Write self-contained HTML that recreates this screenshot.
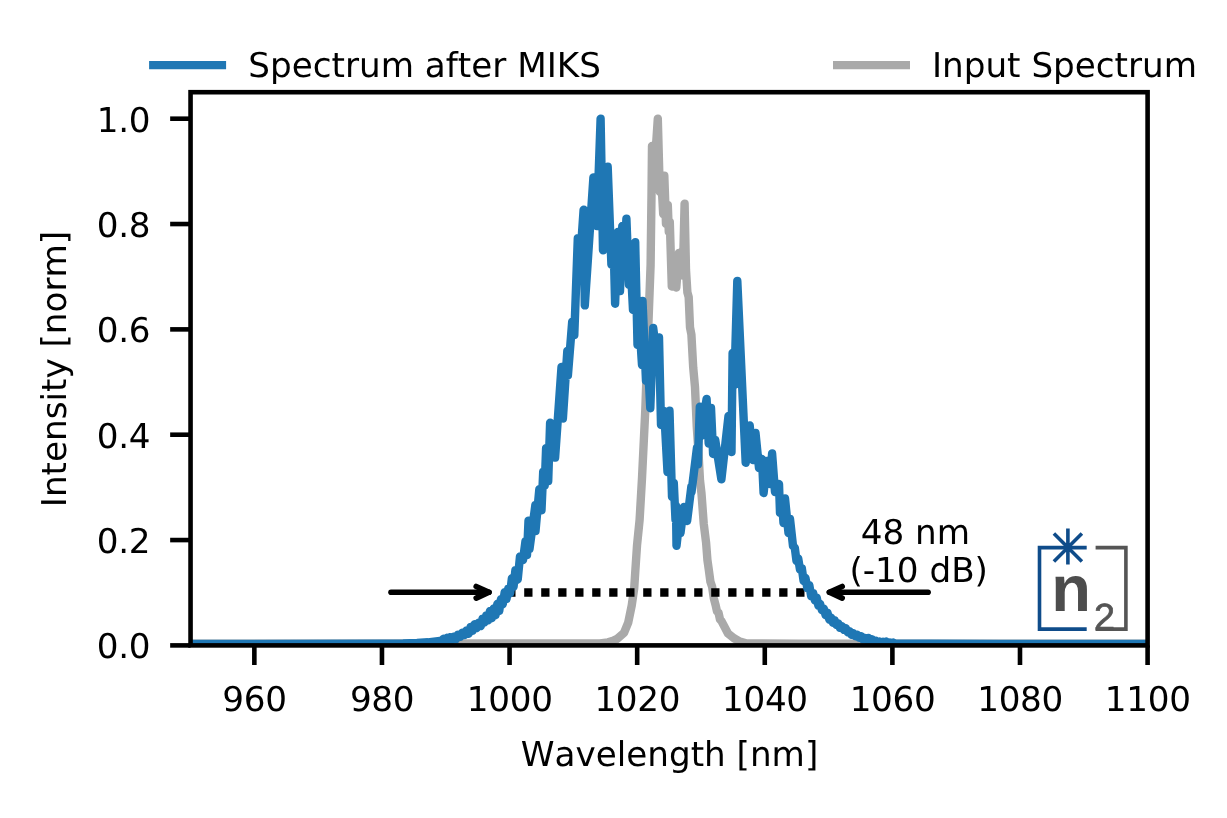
<!DOCTYPE html>
<html lang="en"><head><meta charset="utf-8"><title>Spectrum after MIKS</title>
<style>html,body{margin:0;padding:0;background:#fff}body{width:1227px;height:818px;overflow:hidden}svg{display:block}svg{will-change:transform}text{text-rendering:geometricPrecision;font-kerning:none;font-family:"DejaVu Sans","Liberation Sans",sans-serif;font-size:34.20px;fill:#000}.t{letter-spacing:-0.3px}</style></head><body>
<svg width="1227" height="818" viewBox="0 0 1227 818">
<rect width="1227" height="818" fill="#fff"/>
<defs><clipPath id="ax"><rect x="190.55" y="92.20" width="957.05" height="553.20"/></clipPath></defs>
<g clip-path="url(#ax)" fill="none" stroke-linejoin="round" stroke-linecap="butt">
<path d="M186.0 643.7 L600.0 643.5 L608.0 642.3 L613.0 640.8 L617.1 638.9 L624.0 632.9 L628.2 622.7 L631.7 605.6 L634.2 588.4 L635.3 571.3 L637.0 545.7 L639.6 520.0 L642.0 478.2 L645.3 410.0 L647.8 340.0 L650.6 265.0 L651.5 195.0 L652.0 146.0 L654.0 176.0 L657.8 118.7 L659.8 192.0 L661.5 183.0 L663.2 214.0 L664.3 175.6 L666.0 224.0 L667.8 204.9 L668.8 232.0 L669.8 222.0 L671.8 286.5 L674.0 262.0 L676.3 287.5 L678.9 253.0 L682.8 275.5 L684.6 203.7 L686.0 270.0 L687.4 292.4 L688.7 297.2 L690.0 327.4 L691.4 334.5 L693.2 367.4 L695.0 387.2 L696.8 427.2 L698.5 452.5 L700.0 480.6 L701.5 493.6 L703.7 523.4 L706.1 542.8 L707.4 559.8 L708.7 569.0 L710.4 581.6 L712.1 586.6 L713.8 598.2 L715.5 604.7 L717.0 611.4 L718.5 612.7 L720.0 619.5 L721.5 621.1 L728.0 633.5 L734.0 638.3 L740.0 641.6 L746.0 643.3 L800.0 643.6 L1152.0 643.7" stroke="#a9a9a9" stroke-width="8.4"/>
<line x1="507.2" y1="592.5" x2="812.0" y2="592.5" stroke="#000" stroke-width="8.3" stroke-dasharray="8.30 8.70"/>
<path d="M186.0 643.9 L380.0 643.8 L403.0 643.5 L417.0 643.0 L428.0 642.3 L440.0 640.8 L441.7 641.5 L443.4 638.8 L445.1 640.6 L446.9 637.8 L448.6 640.0 L450.3 637.1 L452.0 639.9 L454.0 636.6 L456.0 639.1 L458.0 634.6 L460.2 636.9 L462.3 632.8 L464.5 635.0 L466.5 630.4 L468.6 633.8 L470.6 627.0 L472.6 630.8 L474.7 624.3 L476.7 628.0 L478.8 622.6 L480.8 626.1 L482.6 618.6 L484.5 622.4 L486.3 615.4 L488.2 620.3 L490.0 610.9 L491.8 618.1 L493.7 608.4 L495.5 615.2 L497.4 603.8 L499.2 611.0 L501.0 599.1 L502.8 604.2 L504.7 592.1 L506.5 599.0 L508.3 588.4 L510.1 593.3 L511.9 578.3 L513.6 586.6 L515.4 570.1 L517.7 579.6 L520.0 556.4 L523.0 560.0 L525.5 541.0 L527.0 555.0 L528.5 520.6 L529.5 549.0 L535.4 504.9 L535.5 531.0 L539.3 489.3 L541.5 510.4 L543.2 471.7 L544.7 485.7 L546.1 448.2 L548.2 481.1 L550.1 422.8 L555.1 457.6 L561.5 367.0 L562.9 418.5 L567.3 351.0 L567.9 375.5 L572.2 321.7 L574.3 335.0 L577.8 238.1 L580.7 252.1 L583.6 209.8 L584.8 305.4 L593.4 177.5 L596.8 226.0 L600.6 118.7 L603.0 250.2 L607.7 166.8 L611.4 264.6 L613.5 240.0 L615.1 303.7 L617.8 232.0 L620.0 291.0 L622.3 226.0 L624.3 262.0 L626.4 218.7 L629.0 285.0 L631.0 271.0 L633.0 310.0 L635.2 242.2 L637.5 345.0 L639.8 331.0 L642.0 365.0 L642.5 301.0 L646.0 381.0 L648.1 367.0 L650.3 408.2 L653.2 327.9 L656.1 351.4 L659.0 337.4 L661.0 425.0 L664.2 411.0 L667.5 472.0 L669.5 410.8 L672.0 497.0 L673.8 483.0 L675.5 520.0 L676.0 506.0 L676.5 545.7 L678.5 528.0 L680.5 533.0 L683.8 507.0 L687.1 521.0 L691.4 486.2 L691.5 492.0 L697.0 447.5 L697.9 464.4 L699.8 406.8 L700.8 436.0 L706.6 399.0 L708.7 443.6 L711.0 408.0 L713.1 454.0 L715.2 440.0 L721.4 479.3 L728.5 416.0 L731.5 452.0 L732.6 353.0 L734.3 385.0 L737.3 280.9 L745.7 462.7 L749.7 425.4 L753.0 460.0 L755.5 433.0 L759.0 468.0 L762.0 459.0 L763.6 493.0 L767.0 461.0 L770.0 484.0 L772.1 453.5 L775.0 492.0 L779.0 484.0 L780.0 513.0 L781.8 499.0 L783.5 523.0 L785.0 498.5 L788.5 533.0 L790.0 519.0 L793.0 546.0 L794.8 547.7 L796.5 560.9 L798.2 558.5 L800.0 569.7 L801.8 568.1 L803.6 580.9 L805.4 577.8 L807.4 588.4 L809.3 585.2 L811.2 596.2 L813.2 593.1 L814.9 600.4 L816.7 597.6 L818.4 605.7 L820.1 604.0 L821.9 610.1 L823.8 608.7 L825.6 615.0 L827.5 612.7 L829.3 619.5 L831.1 617.7 L832.9 622.7 L834.6 620.2 L836.4 624.8 L838.2 623.4 L840.0 627.9 L841.9 626.3 L843.8 629.9 L845.8 628.2 L847.7 632.2 L849.6 631.2 L851.5 634.8 L853.4 633.5 L855.3 636.2 L857.2 634.6 L859.2 637.7 L861.1 636.1 L863.0 639.4 L864.8 638.0 L866.7 639.9 L868.5 638.0 L870.4 640.7 L872.2 639.3 L874.0 641.7 L875.9 640.8 L877.7 642.4 L879.4 641.4 L881.2 642.6 L882.9 641.8 L884.6 643.1 L886.4 641.6 L888.1 643.4 L889.8 642.4 L891.5 643.6 L893.3 642.6 L895.0 643.5 L930.0 643.8 L1000.0 643.9 L1152.0 643.9" stroke="#1f77b4" stroke-width="8.4"/>
</g>
<rect x="190.55" y="92.20" width="957.05" height="553.20" fill="none" stroke="#000" stroke-width="4.6"/>
<line x1="254.35" y1="645.40" x2="254.35" y2="665.00" stroke="#000" stroke-width="4.6"/>
<text class="t" x="254.50" y="711.1" text-anchor="middle">960</text>
<line x1="381.96" y1="645.40" x2="381.96" y2="665.00" stroke="#000" stroke-width="4.6"/>
<text class="t" x="382.11" y="711.1" text-anchor="middle">980</text>
<line x1="509.57" y1="645.40" x2="509.57" y2="665.00" stroke="#000" stroke-width="4.6"/>
<text class="t" x="509.72" y="711.1" text-anchor="middle">1000</text>
<line x1="637.17" y1="645.40" x2="637.17" y2="665.00" stroke="#000" stroke-width="4.6"/>
<text class="t" x="637.32" y="711.1" text-anchor="middle">1020</text>
<line x1="764.78" y1="645.40" x2="764.78" y2="665.00" stroke="#000" stroke-width="4.6"/>
<text class="t" x="764.93" y="711.1" text-anchor="middle">1040</text>
<line x1="892.39" y1="645.40" x2="892.39" y2="665.00" stroke="#000" stroke-width="4.6"/>
<text class="t" x="892.54" y="711.1" text-anchor="middle">1060</text>
<line x1="1019.99" y1="645.40" x2="1019.99" y2="665.00" stroke="#000" stroke-width="4.6"/>
<text class="t" x="1020.14" y="711.1" text-anchor="middle">1080</text>
<line x1="1147.60" y1="645.40" x2="1147.60" y2="665.00" stroke="#000" stroke-width="4.6"/>
<text class="t" x="1147.75" y="711.1" text-anchor="middle">1100</text>
<line x1="170.15" y1="645.40" x2="190.55" y2="645.40" stroke="#000" stroke-width="4.6"/>
<text class="t" x="150.20" y="658.40" text-anchor="end">0.0</text>
<line x1="170.15" y1="540.06" x2="190.55" y2="540.06" stroke="#000" stroke-width="4.6"/>
<text class="t" x="150.20" y="553.06" text-anchor="end">0.2</text>
<line x1="170.15" y1="434.72" x2="190.55" y2="434.72" stroke="#000" stroke-width="4.6"/>
<text class="t" x="150.20" y="447.72" text-anchor="end">0.4</text>
<line x1="170.15" y1="329.38" x2="190.55" y2="329.38" stroke="#000" stroke-width="4.6"/>
<text class="t" x="150.20" y="342.38" text-anchor="end">0.6</text>
<line x1="170.15" y1="224.04" x2="190.55" y2="224.04" stroke="#000" stroke-width="4.6"/>
<text class="t" x="150.20" y="237.04" text-anchor="end">0.8</text>
<line x1="170.15" y1="118.70" x2="190.55" y2="118.70" stroke="#000" stroke-width="4.6"/>
<text class="t" x="150.20" y="131.70" text-anchor="end">1.0</text>
<text x="669.5" y="765.7" text-anchor="middle">Wavelength [nm]</text>
<text transform="translate(65.8 369.0) rotate(-90)" text-anchor="middle">Intensity [norm]</text>
<line x1="149.1" y1="65.1" x2="226.1" y2="65.1" stroke="#1f77b4" stroke-width="8.4"/>
<text x="248.3" y="76.9">Spectrum after MIKS</text>
<line x1="833" y1="65.1" x2="910" y2="65.1" stroke="#a9a9a9" stroke-width="8.4"/>
<text x="932.0" y="76.9">Input Spectrum</text>
<text x="915.4" y="543.8" text-anchor="middle">48 nm</text>
<text x="918.7" y="582.0" text-anchor="middle">(-10 dB)</text>
<g fill="none" stroke="#000" stroke-width="5.6" stroke-linecap="round" stroke-linejoin="round">
<path d="M391 592.3 H489"/><path d="M476.2 586.5 L489 592.3 L476.2 598.1"/><path d="M928.1 592.3 H829.4"/><path d="M842.2 586.5 L829.4 592.3 L842.2 598.1"/>
</g>
<g fill="none" stroke-width="3.6"><path d="M1086.7 547.6 H1039.5 V629.1 H1086.7" stroke="#0f4c8a"/><path d="M1067.9 528.4 V564.5 M1053.9 533.6 L1081.9 561.6 M1081.9 533.6 L1053.9 561.6" stroke="#0f4c8a"/><path d="M1095.6 547.6 H1125.9 V629.1 H1095.6" stroke="#555"/></g><text x="1051.2" y="610.9" style="font-family:'Liberation Sans',sans-serif;font-weight:bold;font-size:65px;fill:#4d4d4d">n</text><text x="1094.0" y="629.9" style="font-family:'Liberation Sans',sans-serif;font-size:37.8px;fill:#555;stroke:#555;stroke-width:0.7px">2</text>
</svg></body></html>
